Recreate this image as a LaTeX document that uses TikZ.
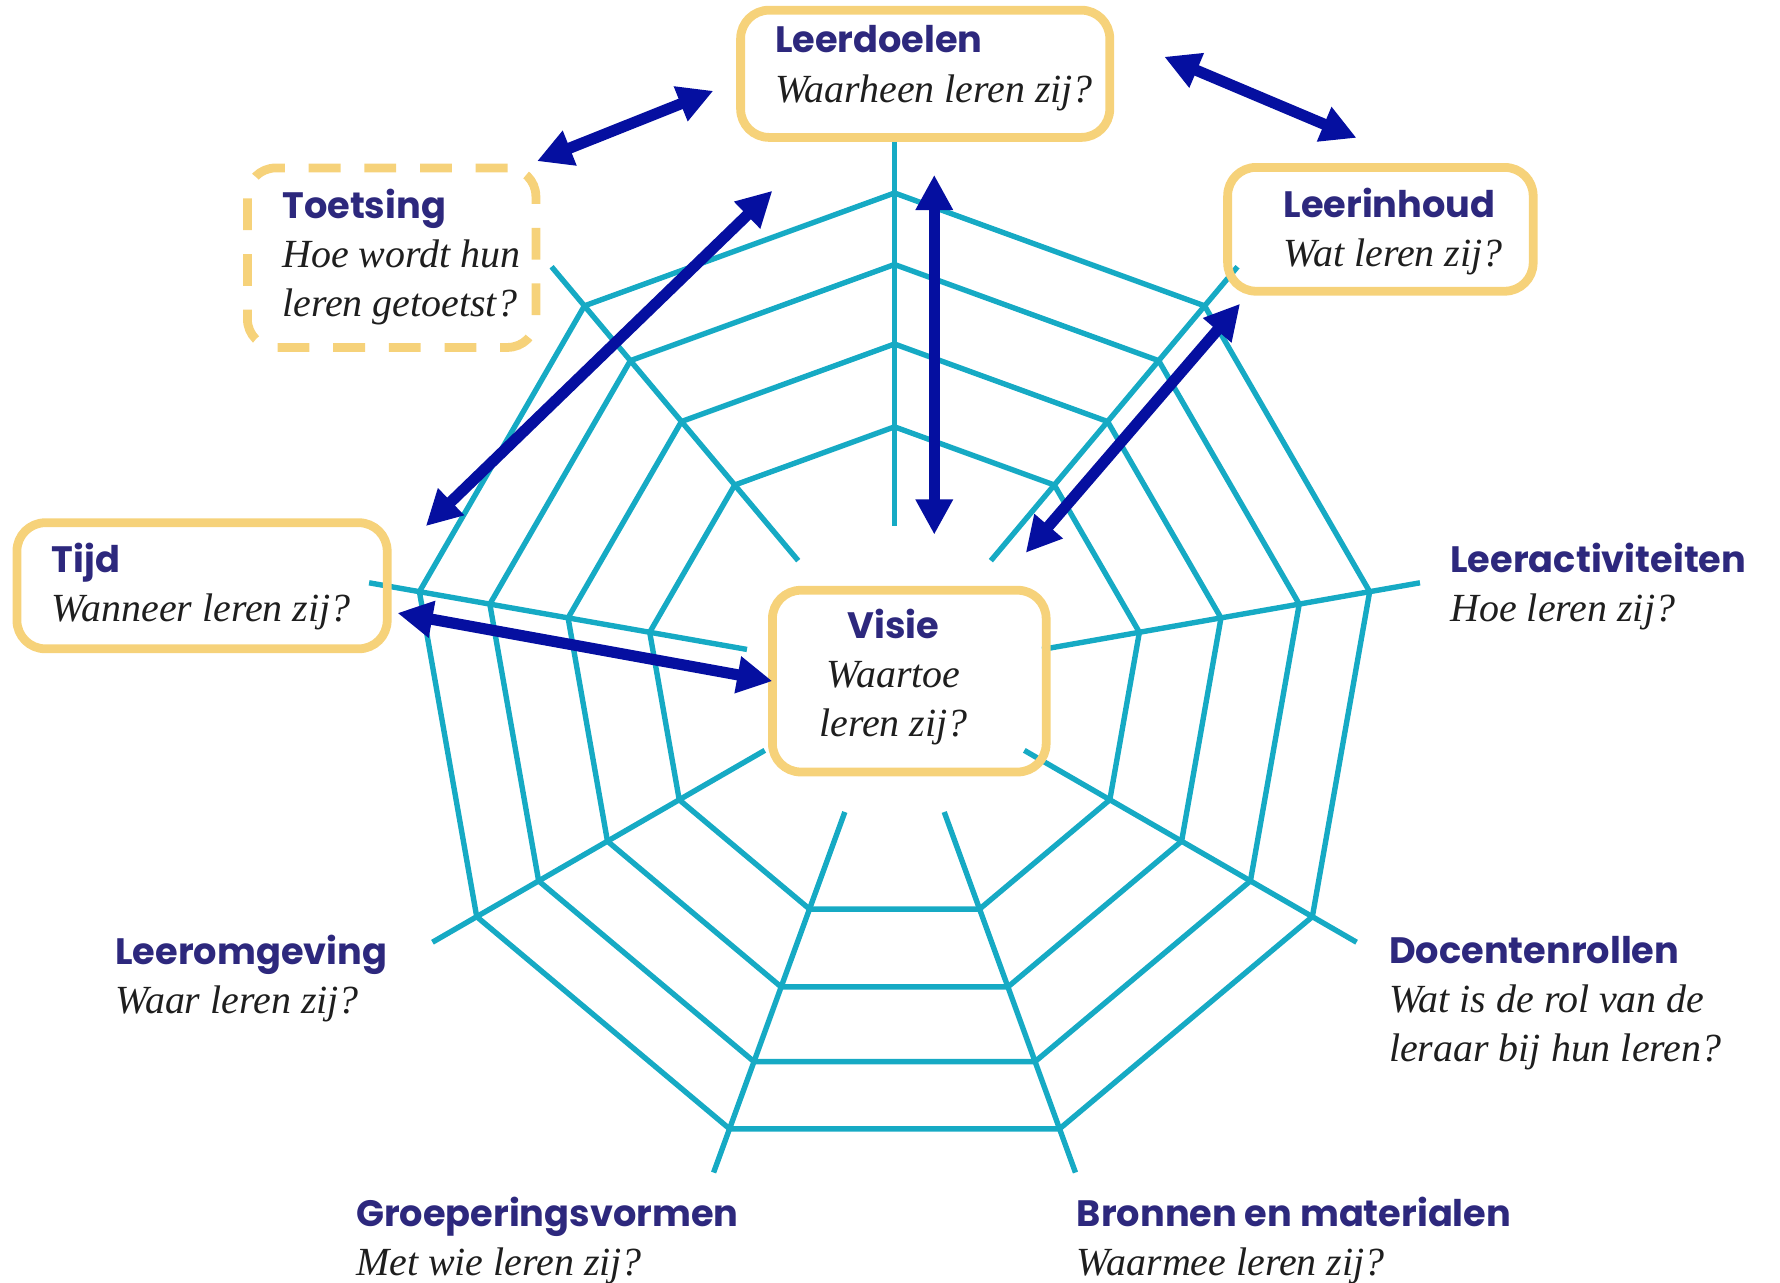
\documentclass[tikz,border=0pt]{standalone}
\usepackage{fontspec}
\setmainfont{Liberation Serif}
\newfontfamily\headfont{Poppins}
\usetikzlibrary{arrows.meta}

\definecolor{webteal}{RGB}{22,170,196}
\definecolor{boxyellow}{RGB}{246,210,122}
\definecolor{arrowblue}{RGB}{5,15,160}
\definecolor{titlenavy}{RGB}{45,40,125}
\definecolor{asktext}{RGB}{30,30,30}
\newcommand{\headtxt}[1]{{\headfont\bfseries\color{titlenavy}#1}}
\newcommand{\asktxt}[1]{{\fontsize{10}{12.3}\selectfont\itshape\color{asktext}#1}}

\begin{document}
\begin{tikzpicture}[x=0.01cm,y=-0.01cm,
  web/.style={webteal,line width=1.35pt},
  kader/.style={draw=boxyellow,line width=2.2pt,rounded corners=0.25cm,inner sep=0pt,outer sep=0pt},
  kaderstip/.style={kader,dash pattern=on 0.28cm off 0.21cm},
  tekst/.style={anchor=north west,inner sep=0pt,align=left,font=\fontsize{9.2}{12.3}\selectfont},
  pijl/.style={arrowblue,line width=2.8pt,{Triangle[length=0.31cm,width=0.31cm]}-{Triangle[length=0.31cm,width=0.31cm]}}]
\useasboundingbox (0,0) rectangle (1568,1130);
% spinnenweb
\begin{scope}[shift={(788,595)}]
\draw[web] (-90:132) -- (-90:470);
\draw[web] (-50:132) -- (-50:470);
\draw[web] (-10:132) -- (-10:470);
\draw[web] (30:132) -- (30:470);
\draw[web] (70:128) -- (70:466);
\draw[web] (110:128) -- (110:466);
\draw[web] (150:132) -- (150:470);
\draw[web] (190:132) -- (190:470);
\draw[web] (230:132) -- (230:470);
\draw[web] (-90:425) -- (-50:425) -- (-10:425) -- (30:425) -- (70:425) -- (110:425) -- (150:425) -- (190:425) -- (230:425) -- cycle;
\draw[web] (-90:362) -- (-50:362) -- (-10:362) -- (30:362) -- (70:362) -- (110:362) -- (150:362) -- (190:362) -- (230:362) -- cycle;
\draw[web] (-90:292) -- (-50:292) -- (-10:292) -- (30:292) -- (70:292) -- (110:292) -- (150:292) -- (190:292) -- (230:292) -- cycle;
\draw[web] (-90:219) -- (-50:219) -- (-10:219) -- (30:219) -- (70:219) -- (110:219) -- (150:219) -- (190:219) -- (230:219) -- cycle;
\end{scope}
% kaders
\node[kader,minimum width=3.25cm,minimum height=1.12cm] (leerdoelen) at (815,65) {};
\node[kader,minimum width=2.69cm,minimum height=1.09cm] (leerinhoud) at (1216,202) {};
\node[kaderstip,minimum width=2.54cm,minimum height=1.58cm] (toetsing) at (345,227) {};
\node[kader,minimum width=3.26cm,minimum height=1.11cm] (tijd) at (178,516) {};
\node[kader,minimum width=2.41cm,minimum height=1.60cm] (visie) at (801,600) {};
% teksten
\node[tekst] (leerdoelen-t) at (682,22) {\headtxt{Leerdoelen}\\\asktxt{Waarheen leren zij?}};
\node[tekst] (leerinhoud-t) at (1130,165) {\headtxt{Leerinhoud}\\\asktxt{Wat leren zij?}};
\node[tekst] (toetsing-t) at (248,166) {\headtxt{Toetsing}\\\asktxt{Hoe wordt hun}\\\asktxt{leren getoetst?}};
\node[tekst] (tijd-t) at (45,478) {\headtxt{Tijd}\\\asktxt{Wanneer leren zij?}};
\node[tekst,anchor=north,align=center] (visie-t) at (787,536) {\headtxt{Visie}\\\asktxt{Waartoe}\\\asktxt{leren zij?}};
\node[tekst] (leeractiviteiten) at (1277,478) {\headtxt{Leeractiviteiten}\\\asktxt{Hoe leren zij?}};
\node[tekst] (docentenrollen) at (1223,824) {\headtxt{Docentenrollen}\\\asktxt{Wat is de rol van de}\\\asktxt{leraar bij hun leren?}};
\node[tekst] (bronnen) at (948,1054) {\headtxt{Bronnen en materialen}\\\asktxt{Waarmee leren zij?}};
\node[tekst] (groepering) at (313,1054) {\headtxt{Groeperingsvormen}\\\asktxt{Met wie leren zij?}};
\node[tekst] (leeromgeving) at (101,823) {\headtxt{Leeromgeving}\\\asktxt{Waar leren zij?}};
% pijlen
\draw[pijl] ([shift={(1,-6)}]toetsing.north east) -- ([shift={(-24,15)}]leerdoelen.west);
\draw[pijl] ([shift={(48,-15)}]leerdoelen.east) -- ([shift={(-21,-26)}]leerinhoud.north);
\draw[pijl] ([shift={(8,33)}]leerdoelen.south) -- ([shift={(22,-49)}]visie.north);
\draw[pijl] ([shift={(11,11)}]leerinhoud.south west) -- ([shift={(-18,-33)}]visie.north east);
\draw[pijl] ([shift={(34,3)}]tijd.north east) -- ([shift={(28,47)}]leerdoelen.south west);
\draw[pijl] ([shift={(9,24)}]tijd.east) -- (visie.west);
\end{tikzpicture}
\end{document}
